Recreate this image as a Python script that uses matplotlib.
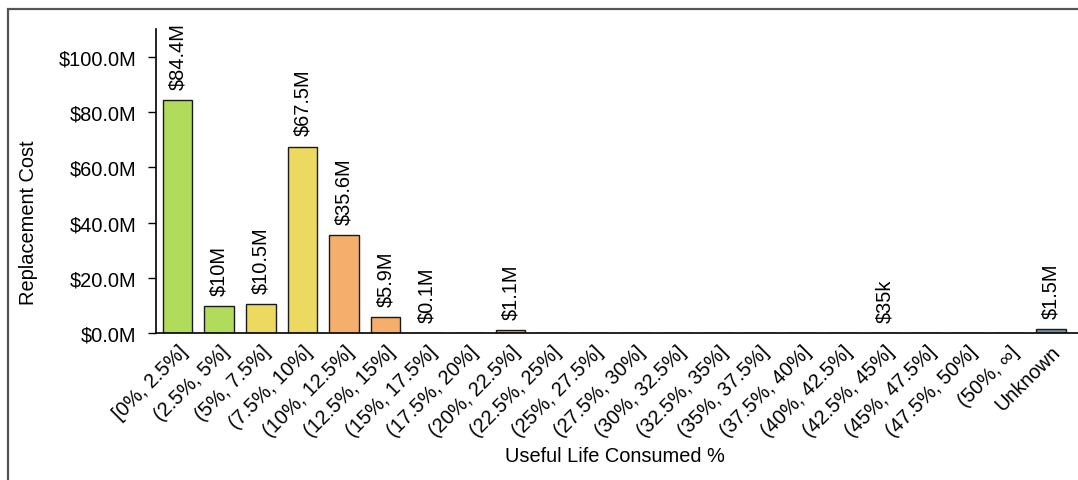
#!/usr/bin/env python3
"""Replacement cost by useful-life-consumed bucket."""

import matplotlib

matplotlib.use("Agg")
import matplotlib.pyplot as plt
from matplotlib.patches import Rectangle
from matplotlib.ticker import FuncFormatter

plt.rcParams["font.family"] = ["Liberation Sans", "DejaVu Sans"]

buckets = [
    "[0%, 2.5%]", "(2.5%, 5%]", "(5%, 7.5%]", "(7.5%, 10%]", "(10%, 12.5%]",
    "(12.5%, 15%]", "(15%, 17.5%]", "(17.5%, 20%]", "(20%, 22.5%]",
    "(22.5%, 25%]", "(25%, 27.5%]", "(27.5%, 30%]", "(30%, 32.5%]",
    "(32.5%, 35%]", "(35%, 37.5%]", "(37.5%, 40%]", "(40%, 42.5%]",
    "(42.5%, 45%]", "(45%, 47.5%]", "(47.5%, 50%]", "(50%, \u221e]", "Unknown",
]
costs = [
    84.4e6, 10.0e6, 10.5e6, 67.5e6, 35.6e6, 5.9e6, 0.1e6, 0.0, 1.1e6,
    0.0, 0.0, 0.0, 0.0, 0.0, 0.0, 0.0, 0.0, 35e3, 0.0, 0.0, 0.0, 1.5e6,
]
colors = [
    "#b1dc5b", "#b1dc5b", "#ecd960", "#ecd960", "#f5ae6b", "#f5ae6b",
    "#f5ae6b", "#f5ae6b", "#e7a45c", "#e7a45c", "#e7a45c", "#e7a45c",
    "#e58c5c", "#e58c5c", "#e58c5c", "#e58c5c", "#d9695a", "#d9695a",
    "#d9695a", "#d9695a", "#c9554f", "#7a90a4",
]

W, H = 1078, 481
FS = 14.4


def money(v, _pos=None):
    return f"${v / 1e6:.1f}M"


def bar_label(v):
    if v >= 1e5:
        s = f"{v / 1e6:.1f}"
        if s.endswith(".0"):
            s = s[:-2]
        return f"${s}M"
    return f"${v / 1e3:.0f}k"


fig = plt.figure(figsize=(W / 100, H / 100), dpi=100)
ax = fig.add_axes([156 / W, 1 - 334.3 / H, (W - 156) / W, (334.3 - 30) / H])

xs = list(range(len(buckets)))
ax.bar(xs, costs, width=0.71, color=colors, edgecolor="#1a1a1a", linewidth=1.0)

for x, v in zip(xs, costs):
    if v <= 0:
        continue
    ax.annotate(
        bar_label(v),
        (x, v),
        xytext=(0, 8),
        textcoords="offset points",
        rotation=90,
        ha="center",
        va="bottom",
        fontsize=FS,
    )

ax.set_xlim(-0.52, 21.65)
ax.set_ylim(0, 110e6)
ax.set_yticks([0, 20e6, 40e6, 60e6, 80e6, 100e6])
ax.yaxis.set_major_formatter(FuncFormatter(money))
ax.set_xticks(xs)
ax.set_xticklabels(buckets, rotation=45, ha="right", rotation_mode="anchor", fontsize=FS)
ax.tick_params(axis="x", length=0, pad=6)
ax.tick_params(axis="y", length=6, width=1.0, labelsize=FS, pad=8)

for side in ("top", "right"):
    ax.spines[side].set_visible(False)
for side in ("left", "bottom"):
    ax.spines[side].set_linewidth(1.2)

fig.text(29 / W, 1 - 223 / H, "Replacement Cost", rotation=90,
         ha="center", va="center", fontsize=FS)
fig.text(615 / W, 1 - 457 / H, "Useful Life Consumed %",
         ha="center", va="center", fontsize=FS)

# outer panel border, open at the right and bottom edges
fig.add_artist(Rectangle(
    (8 / W, -0.1), 1.2, 1.1 - 10 / H,
    transform=fig.transFigure, fill=False, edgecolor="#555555", linewidth=1.6,
))

fig.savefig("out.png", dpi=100)
